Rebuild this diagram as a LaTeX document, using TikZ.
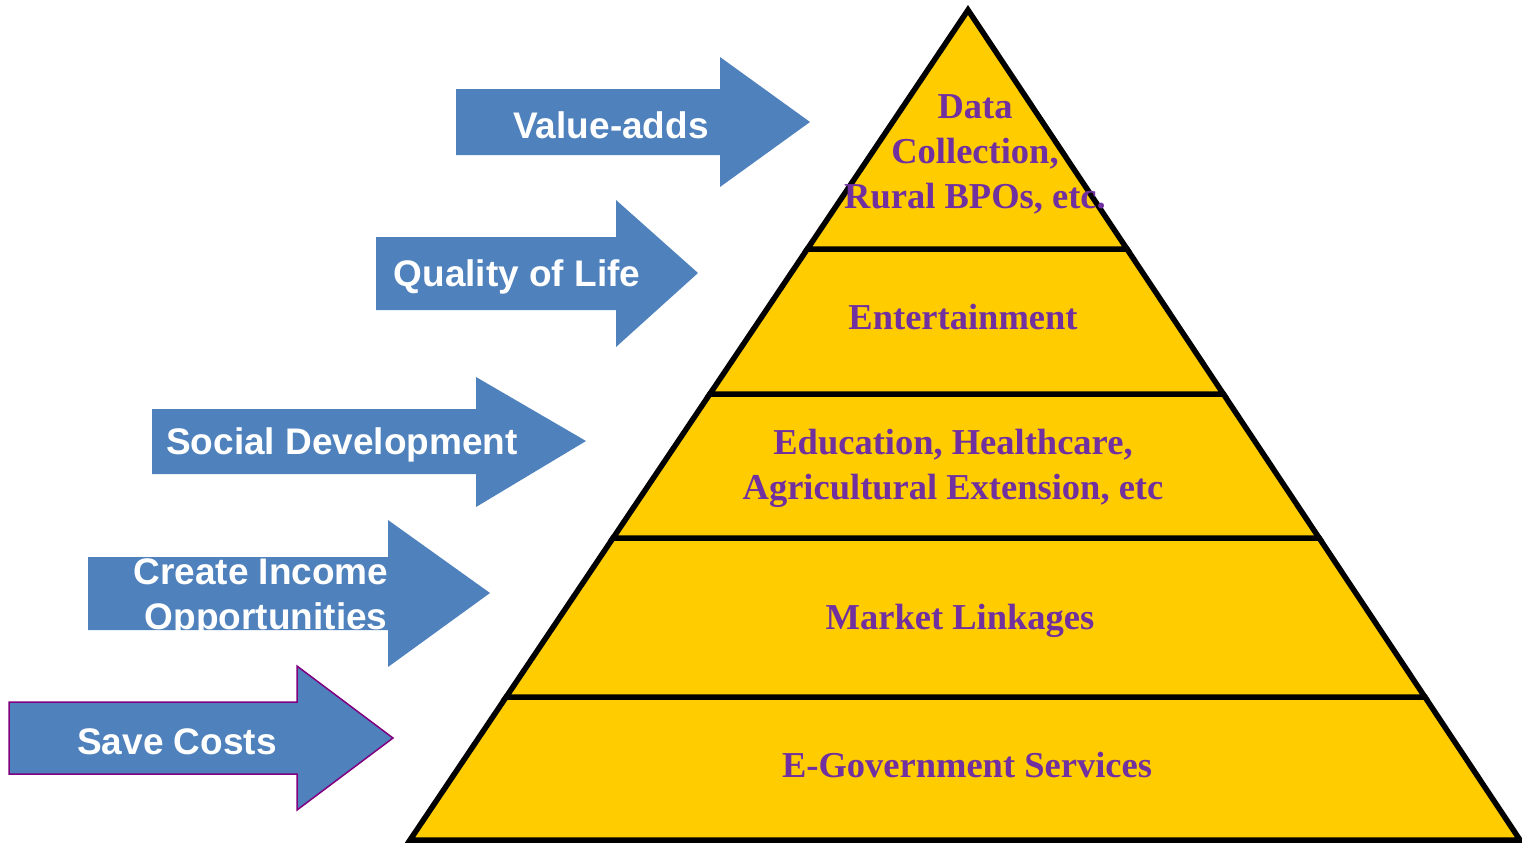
\documentclass[tikz,border=0pt]{standalone}
\usepackage{fontspec}
\setmainfont{Liberation Serif}
\setsansfont{Liberation Sans}
\usetikzlibrary{calc}
\definecolor{pyrfill}{HTML}{FFCC00}
\definecolor{pyrtext}{HTML}{7030A0}
\definecolor{arrowblue}{HTML}{4F81BD}
\definecolor{edgepurple}{HTML}{800080}
\begin{document}
\begin{tikzpicture}[x=1pt,y=-1pt,
  band/.style={fill=pyrfill,draw=black,line width=5.5pt,line join=miter},
  bandtext/.style={text=pyrtext,font=\fontsize{36.5}{45}\selectfont\bfseries,align=center,inner sep=0pt},
  arrowtext/.style={text=white,font=\sffamily\bfseries\fontsize{37}{45}\selectfont,align=center,inner sep=0pt}]
\useasboundingbox (0,0) rectangle (1522,843);

% pyramid corners
\coordinate (A) at (968,10);
\coordinate (BL) at (410,840);
\coordinate (BR) at (1520,840);
% band boundaries along the two sides
\foreach \n/\t in {1/0.28795,2/0.46265,3/0.63614,4/0.82771}{
  \coordinate (L\n) at ($(A)!\t!(BL)$);
  \coordinate (R\n) at ($(A)!\t!(BR)$);
}

% bands, bottom to top
\draw[band] (L4) -- (R4) -- (BR) -- (BL) -- cycle;
\draw[band] (L3) -- (R3) -- (R4) -- (L4) -- cycle;
\draw[band] (L2) -- (R2) -- (R3) -- (L3) -- cycle;
\draw[band] (L1) -- (R1) -- (R2) -- (L2) -- cycle;
\draw[band] (A) -- (R1) -- (L1) -- cycle;

% band labels
\node[bandtext] (t1) at (975,154) {Data\\Collection,\\Rural BPOs, etc.};
\node[bandtext] (t2) at (963,317) {Entertainment};
\node[bandtext] (t3) at (953,468) {Education, Healthcare,\\Agricultural Extension, etc};
\node[bandtext] (t4) at (960,621) {Market Linkages};
\node[bandtext] (t5) at (967,765) {E-Government Services};

% block arrows
\fill[arrowblue] (456,89) -- (720,89) -- (720,57) -- (810,122) -- (720,187) -- (720,155) -- (456,155) -- cycle;
\node[arrowtext] (a1) at (611,125) {Value-adds};

\fill[arrowblue] (376,237) -- (616,237) -- (616,200) -- (698,273) -- (616,347) -- (616,310) -- (376,310) -- cycle;
\node[arrowtext] (a2) at (517,277) {Quality of Life};

\fill[arrowblue] (152,409) -- (476,409) -- (476,377) -- (586,441) -- (476,507) -- (476,474) -- (152,474) -- cycle;
\node[arrowtext] (a3) at (342,445) {Social Development};

\fill[arrowblue] (88,557) -- (388,557) -- (388,520) -- (490,593) -- (388,667) -- (388,630) -- (88,630) -- cycle;
\node[arrowtext] (a4) at (261,598) {Create Income\\\ Opportunities};

\filldraw[fill=arrowblue,draw=edgepurple,line width=1.5pt,line join=miter] (9,702) -- (297,702) -- (297,666) -- (393,738) -- (297,810) -- (297,774) -- (9,774) -- cycle;
\node[arrowtext] (a5) at (177,742) {Save Costs};
\end{tikzpicture}
\end{document}
